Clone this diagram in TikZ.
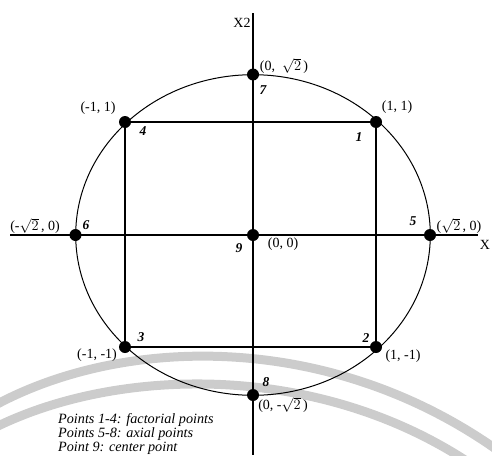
\documentclass[tikz,border=0pt]{standalone}
\usepackage{fontspec}
\setmainfont{Liberation Serif}
\begin{document}
\begin{tikzpicture}[x=1pt,y=-1pt,
  dot/.style={circle,fill=black,inner sep=0pt,minimum size=12pt},
  axis/.style={line width=1.4pt},
  frame/.style={line width=1.1pt},
  lab/.style={font=\fontsize{14}{16}\selectfont,inner sep=0pt},
  num/.style={font=\fontsize{13.5}{15}\selectfont\bfseries\itshape,inner sep=0pt},
  leg/.style={font=\fontsize{14.2}{15}\selectfont\itshape,inner sep=0pt,anchor=west},
  wm/.style={line width=9pt,black!20}]
\useasboundingbox (0,0) rectangle (492,455);
% watermark arcs
\draw[wm] (-10,408) .. controls (120,335) and (330,330) .. (500,452);
\draw[wm] (-10,430) .. controls (110,368) and (310,360) .. (465,460);
% points
\node[dot] (p9) at (253,235) {};
\node[dot] (p7) at (253,74.5) {};
\node[dot] (p8) at (253,395) {};
\node[dot] (p6) at (75.5,235) {};
\node[dot] (p5) at (430,235) {};
\node[dot] (p4) at (125,122) {};
\node[dot] (p1) at (376,122) {};
\node[dot] (p3) at (125,347) {};
\node[dot] (p2) at (376,347) {};
\coordinate (xl) at (10,235);
\coordinate (xr) at (478,235);
\coordinate (yt) at (253,13);
\coordinate (yb) at (253,455);
% axes
\draw[axis] (xl) -- (xr);
\draw[axis] (yt) -- (yb);
% rectangle
\draw[frame] (p4.center) -- (p1.center) -- (p2.center) -- (p3.center) -- cycle;
% ellipse
\draw[line width=1pt] (p9.center) ellipse [x radius=177.3pt, y radius=160.3pt];
% axis labels
\node[lab] (lx2) at (242,23) {X2};
\node[lab] (lx) at (485,245) {X};
% coordinate labels
\node[lab] (c7) at (284,66) {(0,~~$\sqrt{2}\,$)};
\node[lab] (c4) at (98,108) {(-1, 1)};
\node[lab] (c1) at (397,107) {(1, 1)};
\node[lab] (c6) at (35,226) {(-$\sqrt{2}$\,, 0)};
\node[lab] (c5) at (459,226) {($\sqrt{2}$\,, 0)};
\node[lab] (c9) at (283,244) {(0, 0)};
\node[lab] (c3) at (97,355) {(-1, -1)};
\node[lab] (c2) at (403,356) {(1, -1)};
\node[lab] (c8) at (283,405) {(0, -$\sqrt{2}$\,)};
% point numbers
\node[num] (n7) at (263,90) {7};
\node[num] (n4) at (143,131) {4};
\node[num] (n1) at (359,137) {1};
\node[num] (n6) at (86,225) {6};
\node[num] (n5) at (413,221) {5};
\node[num] (n9) at (239,248) {9};
\node[num] (n3) at (141,337) {3};
\node[num] (n2) at (366,338) {2};
\node[num] (n8) at (266,382) {8};
% legend
\node[leg] (g1) at (58,420) {Points 1-4: factorial points};
\node[leg] (g2) at (58,434) {Points 5-8: axial points};
\node[leg] (g3) at (58,448) {Point 9: center point};
\end{tikzpicture}
\end{document}
